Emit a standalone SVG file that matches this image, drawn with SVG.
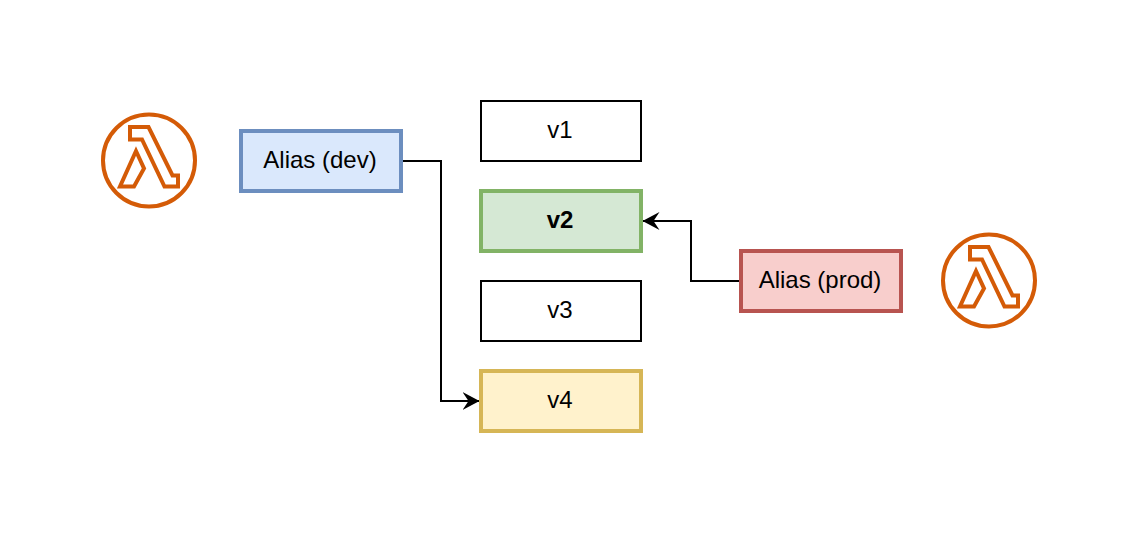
<svg xmlns="http://www.w3.org/2000/svg" width="1138" height="534" viewBox="0 0 1138 534">
<style>
text{font-family:"Liberation Sans",Arial,sans-serif;font-size:24px;text-anchor:middle;fill:#000}
.box{stroke-width:4}
.plain{fill:#fff;stroke:#000;stroke-width:2}
.conn{fill:none;stroke:#000;stroke-width:2}
.lam{fill:none;stroke:#d45b07;stroke-width:4;stroke-linejoin:miter}
</style>
<defs>
<marker id="arrow" markerUnits="userSpaceOnUse" markerWidth="20" markerHeight="20" refX="17" refY="10" orient="auto">
<path d="M0 1L17 10L0 19L6 10Z" fill="#000"/>
</marker>
<g id="lambda">
<circle cx="149" cy="160.500" r="46" class="lam"/>
<path class="lam" d="M130 127H148.500L172.500 175.500H178V186.500H164.500L142 139.500H130Z"/>
<path class="lam" d="M136 151L144 168.500L134 186.500H120Z"/>
</g>
</defs>
<g id="connectors">
<path class="conn" d="M401 161H441V401H479.500" marker-end="url(#arrow)"/>
<path class="conn" d="M741 281H691V221H642.500" marker-end="url(#arrow)"/>
</g>
<g id="lambda-dev"><use href="#lambda"/></g>
<g id="alias-dev"><rect class="box" x="241" y="131" width="160" height="60" fill="#dae8fc" stroke="#6c8ebf"/><text x="320" y="168">Alias (dev)</text></g>
<g id="v1"><rect class="plain" x="481" y="101" width="160" height="60"/><text x="560" y="138">v1</text></g>
<g id="v2"><rect class="box" x="481" y="191" width="160" height="60" fill="#d5e8d4" stroke="#82b366"/><text x="560" y="228" font-weight="bold">v2</text></g>
<g id="v3"><rect class="plain" x="481" y="281" width="160" height="60"/><text x="560" y="318">v3</text></g>
<g id="v4"><rect class="box" x="481" y="371" width="160" height="60" fill="#fff2cc" stroke="#d6b656"/><text x="560" y="408">v4</text></g>
<g id="alias-prod"><rect class="box" x="741" y="251" width="160" height="60" fill="#f8cecc" stroke="#b85450"/><text x="820" y="288">Alias (prod)</text></g>
<g id="lambda-prod"><use href="#lambda" transform="translate(840 120)"/></g>
</svg>
